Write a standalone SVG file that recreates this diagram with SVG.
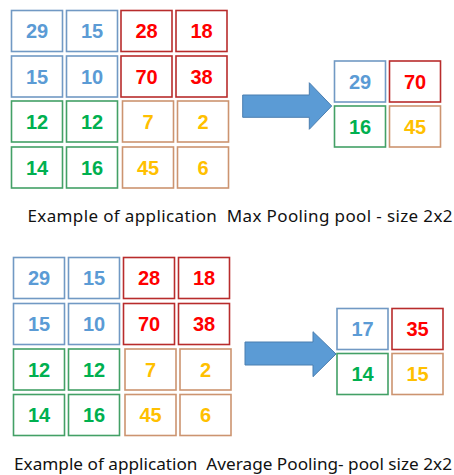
<svg xmlns="http://www.w3.org/2000/svg" width="454" height="475" viewBox="0 0 454 475">
<style>
rect{fill:#fff;stroke-width:1.6}
.b rect{stroke:#7199c4}.b text{fill:#5b9bd5}
.r rect{stroke:#b82c2c}.r text{fill:#ff0000}
.g rect{stroke:#43a066}.g text{fill:#00b050}
.o rect{stroke:#cc9470}.o text{fill:#ffc000}
.n text{font-family:"Liberation Sans",Arial,sans-serif;font-weight:bold;font-size:20px;text-anchor:middle}
.cap{font-family:"Noto Sans","Open Sans",sans-serif;font-size:17px;fill:#111}
.arr{fill:#5b9bd5;stroke:#4a7eb0;stroke-width:1}
</style>
<rect width="454" height="475" fill="#fff" stroke="none"/>
<g id="connectors">
<polygon class="arr" points="242.7,95 309.3,95 309.3,82.7 331.7,106 309.3,129.3 309.3,117.3 242.7,117.3"/>
<polygon class="arr" points="245,342 313,342 313,331.7 336,354 313,376.7 313,365 245,365"/>
</g>
<g id="max-input" class="n">
<g id="m11" class="b"><rect x="11.5" y="10.5" width="51" height="41"/><text x="37" y="38">29</text></g>
<g id="m12" class="b"><rect x="66.5" y="10.5" width="51" height="41"/><text x="92" y="38">15</text></g>
<g id="m13" class="r"><rect x="121" y="10.5" width="51" height="41"/><text x="146.5" y="38">28</text></g>
<g id="m14" class="r"><rect x="176" y="10.5" width="51" height="41"/><text x="201.5" y="38">18</text></g>
<g id="m21" class="b"><rect x="11.5" y="56" width="51" height="41"/><text x="37" y="83.5">15</text></g>
<g id="m22" class="b"><rect x="66.5" y="56" width="51" height="41"/><text x="92" y="83.5">10</text></g>
<g id="m23" class="r"><rect x="121" y="56" width="51" height="41"/><text x="146.5" y="83.5">70</text></g>
<g id="m24" class="r"><rect x="176" y="56" width="51" height="41"/><text x="201.5" y="83.5">38</text></g>
<g id="m31" class="g"><rect x="11.5" y="101" width="51" height="41"/><text x="37" y="128.5">12</text></g>
<g id="m32" class="g"><rect x="66.5" y="101" width="51" height="41"/><text x="92" y="128.5">12</text></g>
<g id="m33" class="o"><rect x="122.5" y="101" width="51" height="41"/><text x="148" y="128.5">7</text></g>
<g id="m34" class="o"><rect x="177.5" y="101" width="51" height="41"/><text x="203" y="128.5">2</text></g>
<g id="m41" class="g"><rect x="11.5" y="147" width="51" height="41"/><text x="37" y="174.5">14</text></g>
<g id="m42" class="g"><rect x="66.5" y="147" width="51" height="41"/><text x="92" y="174.5">16</text></g>
<g id="m43" class="o"><rect x="122.5" y="147" width="51" height="41"/><text x="148" y="174.5">45</text></g>
<g id="m44" class="o"><rect x="177.5" y="147" width="51" height="41"/><text x="203" y="174.5">6</text></g>
</g>
<g id="max-output" class="n">
<g id="mo11" class="b"><rect x="334.5" y="61" width="51" height="41"/><text x="360" y="88.5">29</text></g>
<g id="mo12" class="r"><rect x="389.5" y="61" width="51" height="41"/><text x="415" y="88.5">70</text></g>
<g id="mo21" class="g"><rect x="334.5" y="106" width="51" height="41"/><text x="360" y="133.5">16</text></g>
<g id="mo22" class="o"><rect x="389.5" y="106" width="51" height="41"/><text x="415" y="133.5">45</text></g>
</g>
<g id="caption-max"><text class="cap" x="27.5" y="222" textLength="425" lengthAdjust="spacing" xml:space="preserve">Example of application  Max Pooling pool - size 2x2</text></g>
<g id="avg-input" class="n">
<g id="a11" class="b"><rect x="13.5" y="257.5" width="51" height="41"/><text x="39" y="285">29</text></g>
<g id="a12" class="b"><rect x="68.5" y="257.5" width="51" height="41"/><text x="94" y="285">15</text></g>
<g id="a13" class="r"><rect x="123.5" y="257.5" width="51" height="41"/><text x="149" y="285">28</text></g>
<g id="a14" class="r"><rect x="178.5" y="257.5" width="51" height="41"/><text x="204" y="285">18</text></g>
<g id="a21" class="b"><rect x="13.5" y="303.5" width="51" height="41"/><text x="39" y="331">15</text></g>
<g id="a22" class="b"><rect x="68.5" y="303.5" width="51" height="41"/><text x="94" y="331">10</text></g>
<g id="a23" class="r"><rect x="123.5" y="303.5" width="51" height="41"/><text x="149" y="331">70</text></g>
<g id="a24" class="r"><rect x="178.5" y="303.5" width="51" height="41"/><text x="204" y="331">38</text></g>
<g id="a31" class="g"><rect x="13.5" y="349" width="51" height="41"/><text x="39" y="376.5">12</text></g>
<g id="a32" class="g"><rect x="68.5" y="349" width="51" height="41"/><text x="94" y="376.5">12</text></g>
<g id="a33" class="o"><rect x="125" y="349" width="51" height="41"/><text x="150.5" y="376.5">7</text></g>
<g id="a34" class="o"><rect x="180" y="349" width="51" height="41"/><text x="205.5" y="376.5">2</text></g>
<g id="a41" class="g"><rect x="13.5" y="394.5" width="51" height="41"/><text x="39" y="422">14</text></g>
<g id="a42" class="g"><rect x="68.5" y="394.5" width="51" height="41"/><text x="94" y="422">16</text></g>
<g id="a43" class="o"><rect x="125" y="394.5" width="51" height="41"/><text x="150.5" y="422">45</text></g>
<g id="a44" class="o"><rect x="180" y="394.5" width="51" height="41"/><text x="205.5" y="422">6</text></g>
</g>
<g id="avg-output" class="n">
<g id="ao11" class="b"><rect x="337" y="308.5" width="51" height="41"/><text x="362.5" y="336">17</text></g>
<g id="ao12" class="r"><rect x="392" y="308.5" width="51" height="41"/><text x="417.5" y="336">35</text></g>
<g id="ao21" class="g"><rect x="337" y="353.5" width="51" height="41"/><text x="362.5" y="381">14</text></g>
<g id="ao22" class="o"><rect x="392" y="353.5" width="51" height="41"/><text x="417.5" y="381">15</text></g>
</g>
<g id="caption-avg"><text class="cap" x="14" y="469.5" textLength="438" lengthAdjust="spacingAndGlyphs" xml:space="preserve">Example of application  Average Pooling- pool size 2x2</text></g>
</svg>
